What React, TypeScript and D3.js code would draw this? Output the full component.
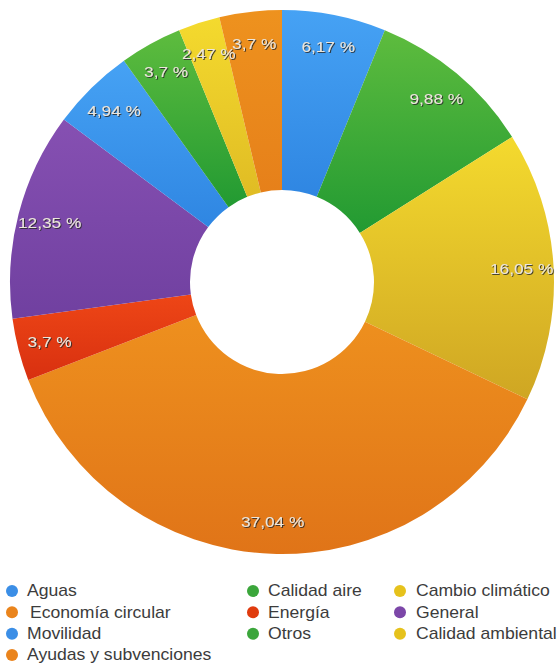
import React from "react";
import * as d3 from "d3";

const categories = [
  "Aguas",
  "Calidad aire",
  "Cambio climático",
  "Economía circular",
  "Energía",
  "General",
  "Movilidad",
  "Otros",
  "Calidad ambiental",
  "Ayudas y subvenciones",
];
const values = [6.17, 9.88, 16.05, 37.04, 3.7, 12.35, 4.94, 3.7, 2.47, 3.7];
const labels = ["6,17 %", "9,88 %", "16,05 %", "37,04 %", "3,7 %", "12,35 %", "4,94 %", "3,7 %", "2,47 %", "3,7 %"];
const colorsTop = ["#46a2f4", "#5ebc3e", "#f4da2e", "#ee901e", "#ee4616", "#8650b2", "#46a2f4", "#5ebc3e", "#f4da2e", "#ee921e"];
const colorsBottom = ["#2f86e2", "#229a32", "#cfa623", "#e07418", "#d83010", "#7040a0", "#2f86e2", "#229a32", "#e0bc24", "#e6801a"];
const legendOrder = [
  "Aguas", "Calidad aire", "Cambio climático",
  "Economía circular", "Energía", "General",
  "Movilidad", "Otros", "Calidad ambiental",
  "Ayudas y subvenciones",
];
const legendColors = ["#3a8ee6", "#3aa63a", "#e6c21e", "#ea841c", "#e03a10", "#7b46a8", "#3a8ee6", "#3aa63a", "#e6c21e", "#ea841c"];

const W = 558;
const H = 664;
const cx = 282;
const cy = 282;
const R = 272;
const R0 = 92;
const labelR = 240;

export default function App() {
  const pie = d3.pie<number>().sort(null).value((d) => d);
  const arcs = pie(values);
  const arc = d3.arc<d3.PieArcDatum<number>>().innerRadius(R0).outerRadius(R);
  const labelArc = d3.arc<d3.PieArcDatum<number>>().innerRadius(labelR).outerRadius(labelR);

  const colX = [12, 253, 400];
  const textX = [27, 268, 416];
  const rowY = d3.scaleLinear().domain([0, 3]).range([591, 655]);

  return (
    <svg width={W} height={H} style={{ position: "absolute", left: 0, top: 0 }}
      fontFamily="'Liberation Sans', Arial, Helvetica, sans-serif">
      <defs>
        {categories.map((c, i) => (
          <linearGradient key={c} id={`g${i}`} x1={0} y1={0} x2={0} y2={1}>
            <stop offset="0%" stopColor={colorsTop[i]} />
            <stop offset="100%" stopColor={colorsBottom[i]} />
          </linearGradient>
        ))}
        <filter id="sh" x="-20%" y="-40%" width="140%" height="180%">
          <feGaussianBlur in="SourceGraphic" stdDeviation="0.3" result="b" />
          <feDropShadow in="b" dx="0.9" dy="0.9" stdDeviation="0.5" floodColor="#2a2a2a" floodOpacity="0.9" />
        </filter>
        <filter id="soft">
          <feGaussianBlur stdDeviation="0.3" />
        </filter>
      </defs>
      <g transform={`translate(${cx},${cy})`}>
        {arcs.map((a, i) => (
          <path key={categories[i]} d={arc(a) || ""} fill={`url(#g${i})`} />
        ))}
        {arcs.map((a, i) => {
          const [x, y] = labelArc.centroid(a);
          return (
            <text key={"l" + i} transform={`translate(${x},${y}) scale(1.15,1)`}
              textAnchor="middle" dominantBaseline="central"
              fontSize={15} fill="#ece6dc" filter="url(#sh)">
              {labels[i]}
            </text>
          );
        })}
      </g>
      <g>
        {legendOrder.map((name, k) => {
          const col = k % 3;
          const row = Math.floor(k / 3);
          const y = rowY(row);
          const extra = name === "Economía circular" ? 3 : 0;
          return (
            <g key={name}>
              <circle cx={colX[col]} cy={y} r={6} fill={legendColors[k]} filter="url(#soft)" />
              <text transform={`translate(${textX[col] + extra},${y}) scale(1.1,1)`}
                dominantBaseline="central" fontSize={16} fill="#3c3c3c">
                {name}
              </text>
            </g>
          );
        })}
      </g>
    </svg>
  );
}
